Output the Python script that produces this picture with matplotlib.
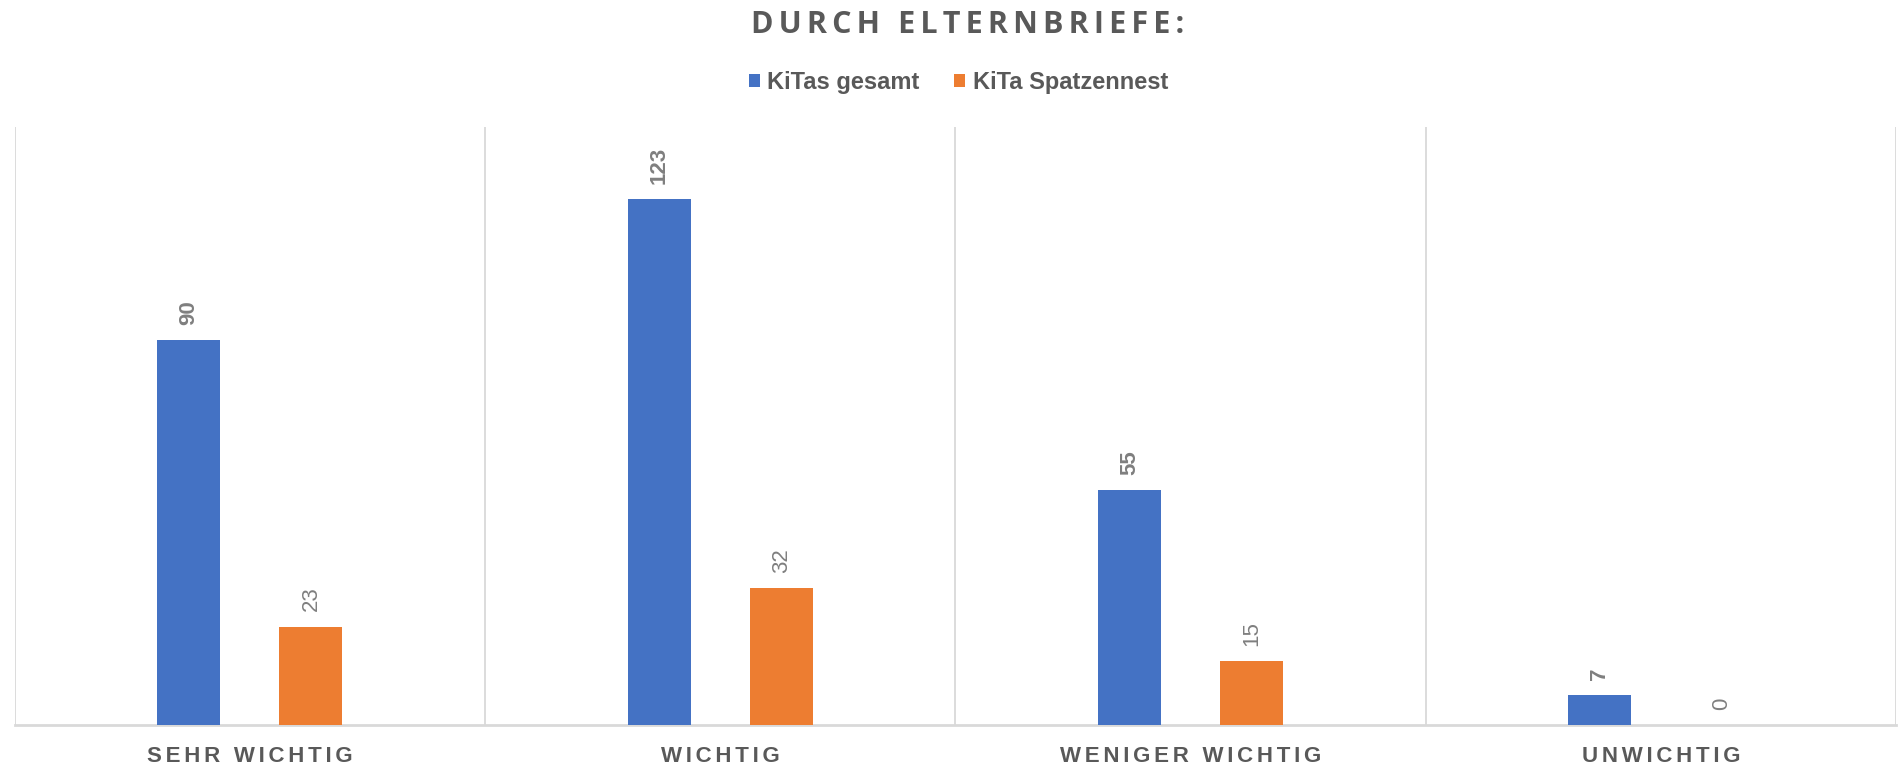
import matplotlib
matplotlib.use("Agg")
import matplotlib.pyplot as plt
import numpy as np

categories = ["SEHR WICHTIG", "WICHTIG", "WENIGER WICHTIG", "UNWICHTIG"]
series_names = ["KiTas gesamt", "KiTa Spatzennest"]
kitas_gesamt = [90, 123, 55, 7]
kita_spatzennest = [23, 32, 15, 0]
title = "DURCH ELTERNBRIEFE:"

BLUE = "#4472C4"
ORANGE = "#ED7D31"
TXT = "#595959"
LBL = "#7F7F7F"
GRID = "#D9D9D9"

SIXPEREM = "\u2006"


def spaced(s):
    # emulate letter spacing (tracking) with narrow spaces between characters
    return SIXPEREM.join(list(s))


fig = plt.figure(figsize=(18.98, 7.68), dpi=100)
ax = fig.add_axes([0.0077, 0.056, 0.9913, 0.779])

x = np.arange(len(categories))
w = 0.134
off = 0.13
b1 = ax.bar(x - off, kitas_gesamt, w, color=BLUE, label=series_names[0], zorder=3)
b2 = ax.bar(x + off, kita_spatzennest, w, color=ORANGE, label=series_names[1], zorder=3)

ax.set_xlim(-0.5, len(categories) - 0.5)
ax.set_ylim(0, 140)

for s in ["top", "right", "left"]:
    ax.spines[s].set_visible(False)
ax.spines["bottom"].set_color(GRID)
ax.spines["bottom"].set_linewidth(2)
ax.set_yticks([])
for b in np.arange(-0.5, len(categories), 1.0):
    ax.axvline(b, color=GRID, lw=1.3, zorder=1)

ax.set_xticks(x)
ax.set_xticklabels([spaced(c) for c in categories])
ax.tick_params(axis="x", length=0, pad=15)
for t in ax.get_xticklabels():
    t.set_fontfamily(["Liberation Sans", "DejaVu Sans"])
    t.set_fontweight("bold")
    t.set_fontsize(16)
    t.set_color(TXT)

for rect, v in zip(b1, kitas_gesamt):
    ax.annotate(str(v), (rect.get_x() + rect.get_width() / 2, v), xytext=(0, 11),
                textcoords="offset points", rotation=90, ha="center", va="bottom",
                fontsize=16, fontweight="bold", color=LBL, family="Liberation Sans")
for rect, v in zip(b2, kita_spatzennest):
    ax.annotate(str(v), (rect.get_x() + rect.get_width() / 2, v), xytext=(0, 11),
                textcoords="offset points", rotation=90, ha="center", va="bottom",
                fontsize=16, color=LBL, family="Liberation Sans")

fig.text(0.5098, 0.968, spaced(title), ha="center", va="center", fontsize=22, fontweight="bold",
         color=TXT, family=["Open Sans", "DejaVu Sans"])

leg = fig.legend(handles=[b1, b2], labels=series_names, loc="center", bbox_to_anchor=(0.505, 0.893),
                 ncol=2, frameon=False, handlelength=0.48, handleheight=0.48, handletextpad=0.3,
                 columnspacing=1.45, borderpad=0.0,
                 prop={"family": "Liberation Sans", "weight": "bold", "size": 17})
for t in leg.get_texts():
    t.set_color(TXT)

fig.savefig("out.png", dpi=100, facecolor="white")
